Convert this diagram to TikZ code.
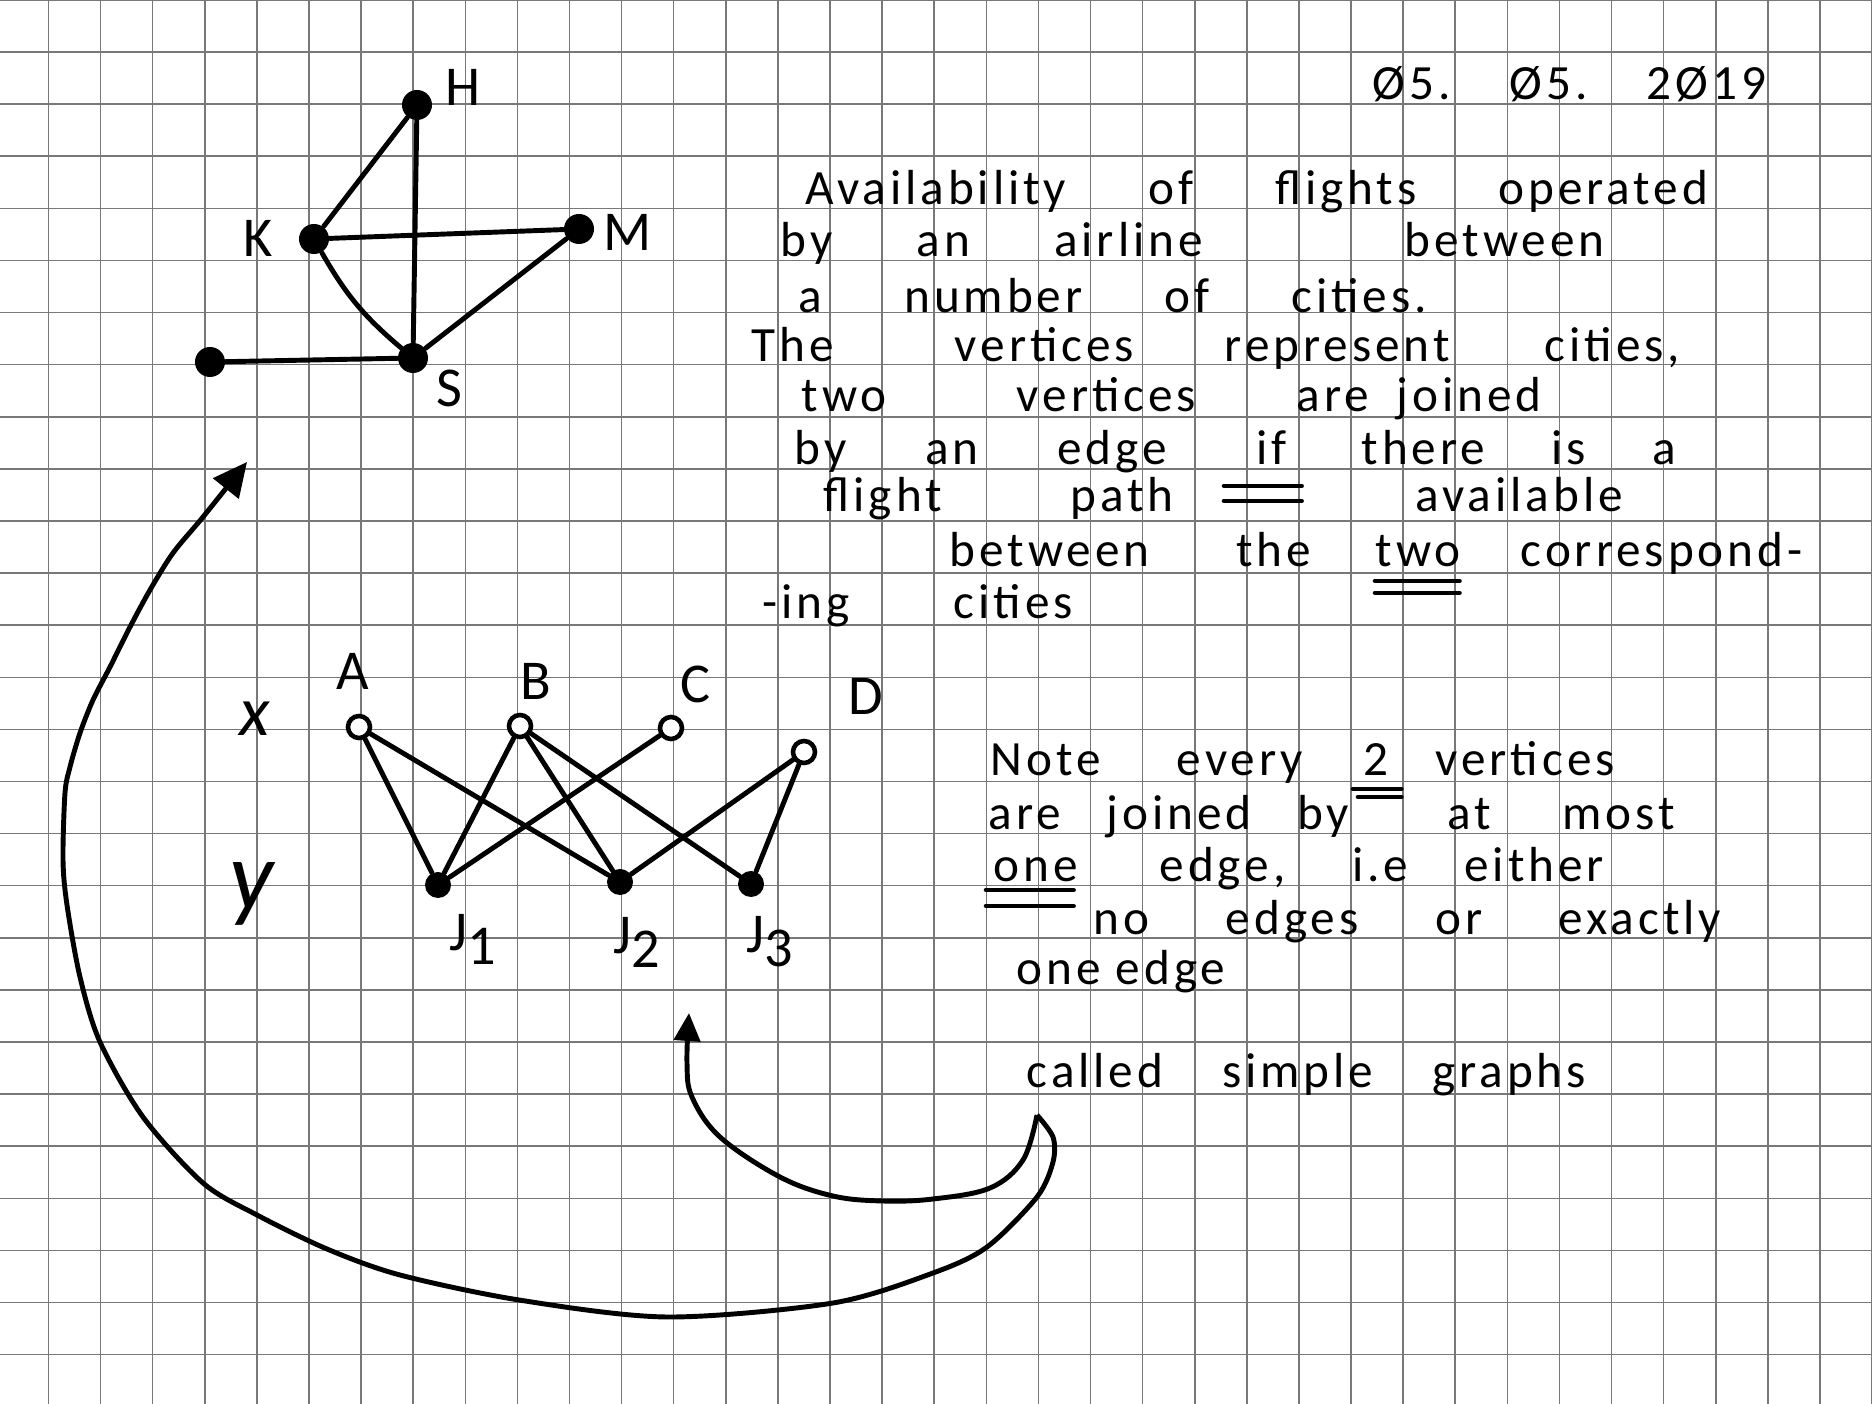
\documentclass[tikz,border=0pt]{standalone}
\usepackage{fontspec}
\setmainfont{Carlito}
\newfontfamily\hand[LetterSpace=8]{Carlito}
\usetikzlibrary{arrows.meta,calc}
\definecolor{gridgray}{RGB}{120,120,120}
\newcommand{\spread}[2]{\makebox[#1][s]{#2}}

\begin{document}
\begin{tikzpicture}[
  x=0.01cm,y=-0.01cm,
  gridline/.style={draw=gridgray,line width=0.45pt},
  edge/.style={line width=1.4pt,line cap=round},
  citydot/.style={circle,fill=black,inner sep=0pt,minimum size=3mm},
  opendot/.style={circle,draw=black,line width=1.3pt,fill=white,inner sep=0pt,minimum size=2.2mm},
  jobdot/.style={circle,fill=black,inner sep=0pt,minimum size=2.6mm},
  lbl/.style={font=\hand\fontsize{16}{19}\selectfont,inner sep=0pt},
  txt/.style={font=\hand\fontsize{14}{16}\selectfont,inner sep=0pt,anchor=base west},
  uline/.style={line width=1.3pt,line cap=round},
  bigarrow/.style={line width=1.4pt,-{Triangle[length=3.4mm,width=3.2mm]}},
  smallarrow/.style={line width=1.4pt,-{Triangle[length=2.8mm,width=2.6mm]}},
]
  \useasboundingbox (0,0) rectangle (1872,1404);
  \fill[white] (0,0) rectangle (1872,1404);

  % squared paper
  \foreach \i in {0,...,35}
    \draw[gridline] ({48.5+52.1*\i},0) -- ++(0,1404);
  \foreach \j in {0,...,26}
    \draw[gridline] (0,{52.1*\j}) -- ++(1872,0);

  % flight graph
  \node[citydot] (H) at (417,105) {};
  \node[citydot] (K) at (314,239) {};
  \node[citydot] (M) at (579,229) {};
  \node[citydot] (S) at (413,358) {};
  \node[citydot] (P) at (210,362) {};
  \node[lbl] (Hlab) at (463,87) {H};
  \node[lbl] (Klab) at (258,238) {K};
  \node[lbl] (Mlab) at (628,232) {M};
  \node[lbl] (Slab) at (449,388) {S};

  \draw[edge] (H) -- (K);
  \draw[edge] (H) -- (S);
  \draw[edge] (K) -- (M);
  \draw[edge] (K) to[bend right=10] (S);
  \draw[edge] (M) -- (S);
  \draw[edge] (P) -- (S);

  % bipartite graph
  \node[opendot] (A) at (359,727) {};
  \node[opendot] (B) at (520,726) {};
  \node[opendot] (C) at (671,728) {};
  \node[opendot] (D) at (804,752) {};
  \node[jobdot] (J1) at (438,885) {};
  \node[jobdot] (J2) at (620,882) {};
  \node[jobdot] (J3) at (751,884) {};
  \node[lbl] (Alab) at (353,671) {A};
  \node[lbl] (Blab) at (536,681) {B};
  \node[lbl] (Clab) at (695,684) {C};
  \node[lbl] (Dlab) at (866,696) {D};
  \node[lbl] (J1lab) at (473,939) {J\raisebox{-4pt}{1}};
  \node[lbl] (J2lab) at (637,942) {J\raisebox{-4pt}{2}};
  \node[lbl] (J3lab) at (770,942) {J\raisebox{-4pt}{3}};
  \node[lbl,font=\hand\itshape\fontsize{20}{24}\selectfont] (xlab) at (255,719) {x};
  \node[lbl,font=\hand\itshape\fontsize{28}{32}\selectfont] (ylab) at (252,894) {y};

  \draw[edge] (A) -- (J1);
  \draw[edge] (A) -- (J2);
  \draw[edge] (B) -- (J1);
  \draw[edge] (B) -- (J2);
  \draw[edge] (B) -- (J3);
  \draw[edge] (C) -- (J1);
  \draw[edge] (D) -- (J2);
  \draw[edge] (D) -- (J3);

  % date
  \node[txt] (date) at (1372,100) {\spread{3.93cm}{Ø5. Ø5. 2Ø19}};

  % first note
  \node[txt] (t1) at (805,205) {\spread{9.02cm}{Availability of flights operated}};
  \node[txt] (t2a) at (780,257) {\spread{4.22cm}{by an airline}};
  \node[txt] (t2b) at (1404,257) {between};
  \node[txt] (t3) at (798,313) {\spread{6.28cm}{a number of cities.}};
  \node[txt] (t4a) at (751,362) {\spread{3.82cm}{The vertices}};
  \node[txt] (t4b) at (1224,362) {\spread{4.55cm}{represent cities,}};
  \node[txt] (t5a) at (801,412) {\spread{3.94cm}{two vertices}};
  \node[txt] (t5b) at (1296,412) {\spread{2.45cm}{are joined}};
  \node[txt] (t6a) at (794,465) {\spread{3.72cm}{by an edge}};
  \node[txt] (t6b) at (1256,465) {if};
  \node[txt] (t6c) at (1361,465) {\spread{3.14cm}{there is a}};
  \node[txt] (t7a) at (823,512) {\spread{3.5cm}{flight path}};
  \node[txt] (t7b) at (1415,512) {available};
  \node[txt] (t8a) at (949,567) {\spread{3.61cm}{between the}};
  \node[txt] (t8b) at (1375,567) {two};
  \node[txt] (t8c) at (1520,567) {correspond-};
  \node[txt] (t9) at (762,619) {\spread{3.1cm}{-ing cities}};

  \draw[uline] ($(t6b.base west)+(-32,21)$) -- ($(t6b.base east)+(14,21)$);
  \draw[uline] ($(t6b.base west)+(-32,36)$) -- ($(t6b.base east)+(14,36)$);
  \draw[uline] ($(t8b.base west)+(0,14)$) -- ($(t8b.base east)+(-2,14)$);
  \draw[uline] ($(t8b.base west)+(0,26)$) -- ($(t8b.base east)+(-2,26)$);

  % second note
  \node[txt] (n1a) at (990,776) {\spread{3.12cm}{Note every}};
  \node[txt] (n1b) at (1363,776) {2};
  \node[txt] (n1c) at (1435,776) {vertices};
  \node[txt] (n2a) at (988,830) {\spread{3.6cm}{are joined by}};
  \node[txt] (n2b) at (1447,830) {\spread{2.27cm}{at most}};
  \node[txt] (n3a) at (993,882) {one};
  \node[txt] (n3b) at (1159,882) {\spread{4.44cm}{edge, i.e either}};
  \node[txt] (n4) at (1093,935) {\spread{6.27cm}{no edges or exactly}};
  \node[txt] (n5) at (1016,985) {one edge};
  \node[txt] (n6) at (1026,1088) {\spread{5.59cm}{called simple graphs}};

  \draw[uline] ($(n1b.base west)+(-10,13)$) -- ($(n1b.base east)+(12,13)$);
  \draw[uline] ($(n1b.base west)+(-5,21)$) -- ($(n1b.base east)+(12,21)$);
  \draw[uline] ($(n3a.base west)+(-7,8)$) -- ($(n3a.base east)+(-5,8)$);
  \draw[uline] ($(n3a.base west)+(-7,24)$) -- ($(n3a.base east)+(-5,24)$);

  % arrows from the last line
  \coordinate (hook) at (1037,1115);
  \coordinate (bigtip) at (247,462);
  \coordinate (smalltip) at (689,1013);
  \draw[smallarrow] plot[smooth,tension=0.6] coordinates {(hook) (1023,1160) (990,1188) (933,1199) (883,1201) (833,1196) (780,1177) (720,1137) (692,1097) (687,1063) (smalltip)};
  \draw[bigarrow] plot[smooth,tension=0.5] coordinates {(hook) (1053,1137) (1053,1162) (1037,1197) (987,1247) (933,1273) (833,1303) (667,1317) (519,1300) (400,1275) (327,1249) (257,1215) (203,1183) (143,1117) (100,1042) (80,977) (67,905) (63,860) (65,793) (70,767) (80,733) (93,700) (110,667) (130,627) (150,590) (173,553) (203,517) (bigtip)};
\end{tikzpicture}
\end{document}
